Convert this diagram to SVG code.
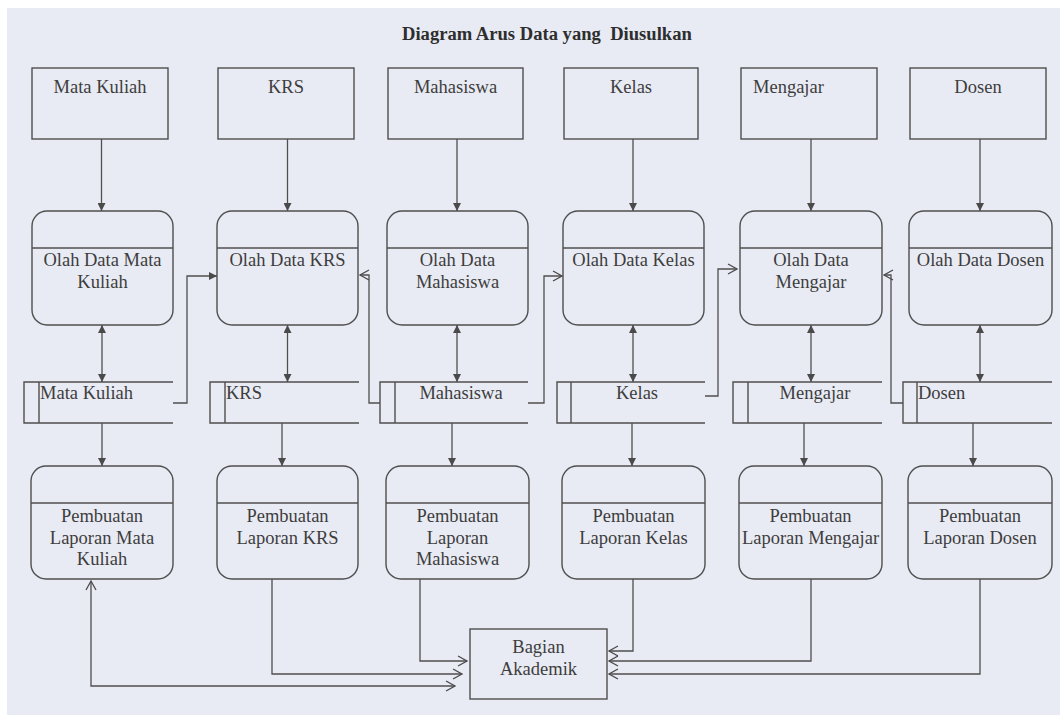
<svg xmlns="http://www.w3.org/2000/svg" width="1060" height="715" viewBox="0 0 1060 715">
<style>
.bg{fill:#e9ebf4}
.box{fill:none;stroke:#4f4f4f;stroke-width:1.4}
.ln{fill:none;stroke:#4f4f4f;stroke-width:1.3}
text{font-family:'Liberation Serif','Tinos','DejaVu Serif',serif}
.t{font-size:18.5px;fill:#3d3d3d}
.c{text-anchor:middle}
.title{font-size:18.6px;font-weight:bold;fill:#2e2e2e}
</style>
<defs>
<marker id="fa" markerUnits="userSpaceOnUse" markerWidth="9" markerHeight="8" refX="8" refY="4" orient="auto-start-reverse" viewBox="0 0 9 8">
<path d="M0,0 L8,4 L0,8 z" fill="#4a4a4a"/>
</marker>
<marker id="oa" markerUnits="userSpaceOnUse" markerWidth="12" markerHeight="12" refX="10" refY="6" orient="auto-start-reverse" viewBox="0 0 12 12">
<path d="M1,1 L10,6 L1,11" fill="none" stroke="#4a4a4a" stroke-width="1.3"/>
</marker>
</defs>
<rect class="bg" x="0" y="0" width="1060" height="715"/>
<rect x="0" y="0" width="1060" height="8" fill="#ffffff"/>
<rect x="0" y="0" width="7" height="715" fill="#ffffff"/>

<text class="title" x="402" y="40" xml:space="preserve" font-family="Liberation Serif, serif">Diagram Arus Data yang  Diusulkan</text>

<!-- External entities -->
<g id="ent-matakuliah"><rect class="box" x="32" y="68" width="136" height="71"/><text class="t c" x="100" y="93">Mata Kuliah</text></g>
<g id="ent-krs"><rect class="box" x="218" y="68" width="136" height="71"/><text class="t c" x="286" y="93">KRS</text></g>
<g id="ent-mahasiswa"><rect class="box" x="388" y="68" width="135" height="71"/><text class="t c" x="455.5" y="93">Mahasiswa</text></g>
<g id="ent-kelas"><rect class="box" x="564" y="68" width="134" height="71"/><text class="t c" x="631" y="93">Kelas</text></g>
<g id="ent-mengajar"><rect class="box" x="741" y="68" width="136" height="71"/><text class="t" x="753" y="93">Mengajar</text></g>
<g id="ent-dosen"><rect class="box" x="910" y="68" width="136" height="71"/><text class="t c" x="978" y="93">Dosen</text></g>

<!-- Olah data processes -->
<g id="p-matakuliah"><rect class="box" x="32" y="211" width="141" height="114" rx="15"/><line class="box" x1="32" y1="248" x2="173" y2="248"/><text class="t c" x="102.5" y="266">Olah Data Mata</text><text class="t c" x="102.5" y="287.5">Kuliah</text></g>
<g id="p-krs"><rect class="box" x="217" y="211" width="141" height="114" rx="15"/><line class="box" x1="217" y1="248" x2="358" y2="248"/><text class="t c" x="287.5" y="266">Olah Data KRS</text></g>
<g id="p-mahasiswa"><rect class="box" x="387" y="211" width="141" height="114" rx="15"/><line class="box" x1="387" y1="248" x2="528" y2="248"/><text class="t c" x="457.5" y="266">Olah Data</text><text class="t c" x="457.5" y="287.5">Mahasiswa</text></g>
<g id="p-kelas"><rect class="box" x="563" y="211" width="141" height="114" rx="15"/><line class="box" x1="563" y1="248" x2="704" y2="248"/><text class="t c" x="633.5" y="266">Olah Data Kelas</text></g>
<g id="p-mengajar"><rect class="box" x="740" y="211" width="142" height="114" rx="15"/><line class="box" x1="740" y1="248" x2="882" y2="248"/><text class="t c" x="811" y="266">Olah Data</text><text class="t c" x="811" y="287.5">Mengajar</text></g>
<g id="p-dosen"><rect class="box" x="909" y="211" width="143" height="114" rx="15"/><line class="box" x1="909" y1="248" x2="1052" y2="248"/><text class="t c" x="980.5" y="266">Olah Data Dosen</text></g>

<!-- Data stores -->
<g id="ds-matakuliah"><path class="box" d="M173,382 H24 V423 H173 M39,382 V423"/><text class="t" x="40" y="399">Mata Kuliah</text></g>
<g id="ds-krs"><path class="box" d="M359,382 H210 V423 H359 M225,382 V423"/><text class="t" x="226" y="399">KRS</text></g>
<g id="ds-mahasiswa"><path class="box" d="M528,382 H380 V423 H528 M395,382 V423"/><text class="t c" x="461" y="399">Mahasiswa</text></g>
<g id="ds-kelas"><path class="box" d="M705,382 H557 V423 H705 M571,382 V423"/><text class="t c" x="637" y="399">Kelas</text></g>
<g id="ds-mengajar"><path class="box" d="M882,382 H733 V423 H882 M748,382 V423"/><text class="t c" x="815" y="399">Mengajar</text></g>
<g id="ds-dosen"><path class="box" d="M1052,382 H903 V423 H1052 M917,382 V423"/><text class="t" x="918" y="399">Dosen</text></g>

<!-- Report processes -->
<g id="r-matakuliah"><rect class="box" x="31" y="466" width="142" height="113" rx="15"/><line class="box" x1="31" y1="503" x2="173" y2="503"/><text class="t c" x="102" y="522">Pembuatan</text><text class="t c" x="102" y="543.5">Laporan Mata</text><text class="t c" x="102" y="565">Kuliah</text></g>
<g id="r-krs"><rect class="box" x="217" y="466" width="141" height="113" rx="15"/><line class="box" x1="217" y1="503" x2="358" y2="503"/><text class="t c" x="287.5" y="522">Pembuatan</text><text class="t c" x="287.5" y="543.5">Laporan KRS</text></g>
<g id="r-mahasiswa"><rect class="box" x="386" y="466" width="143" height="113" rx="15"/><line class="box" x1="386" y1="503" x2="529" y2="503"/><text class="t c" x="457.5" y="522">Pembuatan</text><text class="t c" x="457.5" y="543.5">Laporan</text><text class="t c" x="457.5" y="565">Mahasiswa</text></g>
<g id="r-kelas"><rect class="box" x="562" y="466" width="143" height="113" rx="15"/><line class="box" x1="562" y1="503" x2="705" y2="503"/><text class="t c" x="633.5" y="522">Pembuatan</text><text class="t c" x="633.5" y="543.5">Laporan Kelas</text></g>
<g id="r-mengajar"><rect class="box" x="739" y="466" width="143" height="113" rx="15"/><line class="box" x1="739" y1="503" x2="882" y2="503"/><text class="t c" x="810.5" y="522">Pembuatan</text><text class="t c" x="810.5" y="543.5">Laporan Mengajar</text></g>
<g id="r-dosen"><rect class="box" x="908" y="466" width="144" height="113" rx="15"/><line class="box" x1="908" y1="503" x2="1052" y2="503"/><text class="t c" x="980" y="522">Pembuatan</text><text class="t c" x="980" y="543.5">Laporan Dosen</text></g>

<!-- Bagian Akademik -->
<g id="bagian-akademik"><rect class="box" x="470" y="629" width="137" height="70"/><text class="t c" x="538.5" y="653">Bagian</text><text class="t c" x="538.5" y="675">Akademik</text></g>

<!-- Connectors -->
<g id="connectors">
<line class="ln" x1="101.5" y1="139" x2="101.5" y2="211" marker-end="url(#fa)"/>
<line class="ln" x1="287.5" y1="139" x2="287.5" y2="211" marker-end="url(#fa)"/>
<line class="ln" x1="457" y1="139" x2="457" y2="211" marker-end="url(#fa)"/>
<line class="ln" x1="633" y1="139" x2="633" y2="211" marker-end="url(#fa)"/>
<line class="ln" x1="811" y1="139" x2="811" y2="211" marker-end="url(#fa)"/>
<line class="ln" x1="980" y1="139" x2="980" y2="211" marker-end="url(#fa)"/>

<line class="ln" x1="102" y1="325" x2="102" y2="382" marker-start="url(#fa)" marker-end="url(#fa)"/>
<line class="ln" x1="287.5" y1="325" x2="287.5" y2="382" marker-start="url(#fa)" marker-end="url(#fa)"/>
<line class="ln" x1="457" y1="325" x2="457" y2="382" marker-start="url(#fa)" marker-end="url(#fa)"/>
<line class="ln" x1="633" y1="325" x2="633" y2="382" marker-start="url(#fa)" marker-end="url(#fa)"/>
<line class="ln" x1="811" y1="325" x2="811" y2="382" marker-start="url(#fa)" marker-end="url(#fa)"/>
<line class="ln" x1="980" y1="325" x2="980" y2="382" marker-start="url(#fa)" marker-end="url(#fa)"/>

<line class="ln" x1="102" y1="423" x2="102" y2="466" marker-end="url(#fa)"/>
<line class="ln" x1="282" y1="423" x2="282" y2="466" marker-end="url(#fa)"/>
<line class="ln" x1="452" y1="423" x2="452" y2="466" marker-end="url(#fa)"/>
<line class="ln" x1="632" y1="423" x2="632" y2="466" marker-end="url(#fa)"/>
<line class="ln" x1="804" y1="423" x2="804" y2="466" marker-end="url(#fa)"/>
<line class="ln" x1="973" y1="423" x2="973" y2="466" marker-end="url(#fa)"/>

<path class="ln" d="M173,403 H187 V276 H217" marker-end="url(#fa)"/>
<path class="ln" d="M380,403 H369 V275 H360" marker-end="url(#oa)"/>
<path class="ln" d="M528,403 H544 V276 H562" marker-end="url(#oa)"/>
<path class="ln" d="M705,396 H718 V269 H737" marker-end="url(#oa)"/>
<path class="ln" d="M903,403 H891 V275 H884" marker-end="url(#oa)"/>

<path class="ln" d="M420,579 V661 H467" marker-end="url(#oa)"/>
<path class="ln" d="M272,579 V674 H462" marker-end="url(#oa)"/>
<path class="ln" d="M91,581 V686 H455" marker-start="url(#oa)" marker-end="url(#oa)"/>
<path class="ln" d="M633,579 V651 H609" marker-end="url(#oa)"/>
<path class="ln" d="M811,579 V661 H609" marker-end="url(#oa)"/>
<path class="ln" d="M980,579 V674 H609" marker-end="url(#oa)"/>
</g>
</svg>
